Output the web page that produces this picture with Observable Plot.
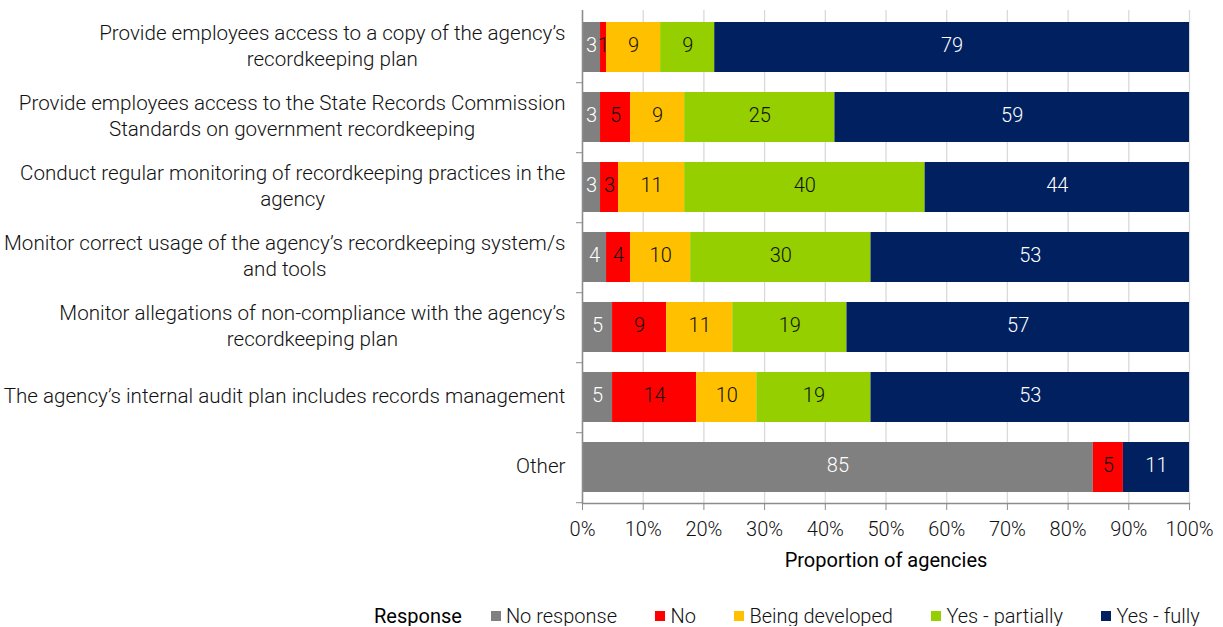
<!DOCTYPE html>
<html><head><meta charset="utf-8">
<script src="https://cdn.jsdelivr.net/npm/d3@7"></script>
<script src="https://cdn.jsdelivr.net/npm/@observablehq/plot@0.6"></script>
<style>
body{margin:0;background:#fff;font-family:Roboto,"Liberation Sans",Arial,sans-serif;overflow:hidden;}
#legend{display:flex;align-items:center;margin-left:374px;margin-top:23px;font-size:20px;line-height:20px;height:20px;font-weight:300;color:#111;white-space:nowrap;}
#legend .title{color:#000;font-weight:400;margin-right:29px;}
#legend .item{display:flex;align-items:center;margin-right:38.5px;}
#legend .sw{width:10px;height:10px;margin-right:5px;display:inline-block;}
</style></head><body>
<div id="chart"></div>
<div id="legend"></div>
<script>
const categories = [
  "Provide employees access to a copy of the agency’s\nrecordkeeping plan",
  "Provide employees access to the State Records Commission\nStandards on government recordkeeping",
  "Conduct regular monitoring of recordkeeping practices in the\nagency",
  "Monitor correct usage of the agency’s recordkeeping system/s\nand tools",
  "Monitor allegations of non-compliance with the agency’s\nrecordkeeping plan",
  "The agency’s internal audit plan includes records management",
  "Other"
];
const responses = ["No response", "No", "Being developed", "Yes - partially", "Yes - fully"];
const colors = ["#808080", "#ff0000", "#ffc000", "#95cf00", "#002060"];
const noResponse     = [3, 3, 3, 4, 5, 5, 85];
const no             = [1, 5, 3, 4, 9, 14, 5];
const beingDeveloped = [9, 9, 11, 10, 11, 10, 0];
const yesPartially   = [9, 25, 40, 30, 19, 19, 0];
const yesFully       = [79, 59, 44, 53, 57, 53, 11];
const xTicks = [0, 0.1, 0.2, 0.3, 0.4, 0.5, 0.6, 0.7, 0.8, 0.9, 1];
const lightText = new Set(["No response", "Yes - fully"]);

const series = [noResponse, no, beingDeveloped, yesPartially, yesFully];
const tidy = [];
categories.forEach((c, i) => {
  responses.forEach((r, j) => tidy.push({category: c, response: r, value: series[j][i]}));
});

const W = 1223, H = 583, mt = 10, mb = 80;
const halfStep = (H - mt - mb) / categories.length / 2;
const font = "Roboto, 'Liberation Sans', Arial, sans-serif";
const stackOpts = {x: "value", y: "category", z: "response", offset: "normalize"};

const plot = Plot.plot({
  width: W, height: H,
  marginLeft: 582, marginRight: 34, marginTop: mt, marginBottom: mb,
  style: {fontFamily: font, fontSize: "20px", fontWeight: 300, color: "#111", background: "#fff"},
  x: {domain: [0, 1], label: null},
  y: {domain: categories, paddingInner: 0.29, paddingOuter: 0.145, label: null},
  color: {domain: responses, range: colors},
  marks: [
    Plot.gridX(xTicks, {stroke: "#d9d9d9", strokeOpacity: 1, strokeWidth: 1.3}),
    Plot.barX(tidy, Plot.stackX({...stackOpts, fill: "response"})),
    Plot.text(tidy, Plot.stackX({...stackOpts,
      text: d => (d.value && lightText.has(d.response)) ? String(d.value) : null,
      fill: "white", fontSize: 20, dy: -1.5})),
    Plot.text(tidy, Plot.stackX({...stackOpts,
      text: d => (d.value && !lightText.has(d.response)) ? String(d.value) : null,
      fill: "#111", fontSize: 20, dy: -1.5})),
    Plot.ruleX([0], {stroke: "#8c8c8c", strokeWidth: 1.5}),
    Plot.frame({anchor: "bottom", stroke: "#8c8c8c", strokeWidth: 1.5}),
    Plot.axisX(xTicks, {tickSize: 7, tickPadding: 11, stroke: "#8c8c8c", fill: "#111", fontSize: 20,
      tickFormat: d3.format(".0%"),
      label: "Proportion of agencies", labelAnchor: "center", labelArrow: "none", labelOffset: 63}),
    Plot.axisY({tickSize: 6, stroke: "#8c8c8c", tickFormat: () => "", dy: halfStep}),
    Plot.axisY({tickSize: 0, tickPadding: 17, lineHeight: 1.22, fontSize: 20.6, fill: "#111", dy: -2.5})
  ]
});
document.getElementById("chart").append(plot);

plot.querySelectorAll('g[aria-label="y-axis tick label"] text').forEach(t => {
  const w = t.getBBox().width;
  if (!w) return;
  t.setAttribute("text-anchor", "middle");
  const tr = t.getAttribute("transform") || "";
  t.setAttribute("transform", tr + ` translate(${-w / 2},0)`);
});
const lab = plot.querySelector('g[aria-label="x-axis label"] text');
if (lab) { lab.setAttribute("fill", "#000"); lab.setAttribute("font-weight", "400"); }

const legend = document.getElementById("legend");
const title = document.createElement("span");
title.className = "title"; title.textContent = "Response";
legend.append(title);
responses.forEach((r, i) => {
  const it = document.createElement("span"); it.className = "item";
  const sw = document.createElement("span"); sw.className = "sw"; sw.style.background = colors[i];
  const tx = document.createElement("span"); tx.textContent = r;
  it.append(sw, tx); legend.append(it);
});
</script>
</body></html>
